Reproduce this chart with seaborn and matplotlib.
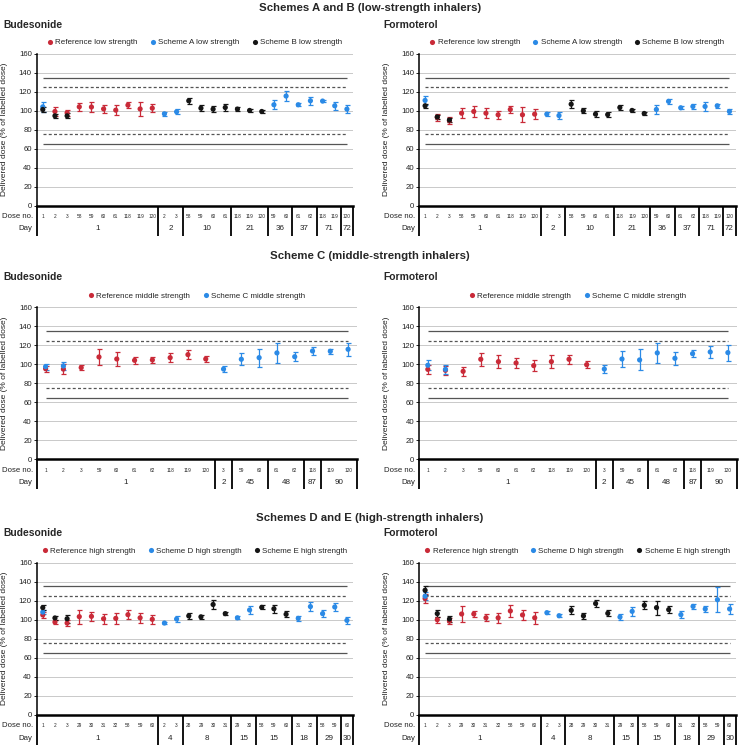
import numpy as np
import pandas as pd
import matplotlib
matplotlib.use("Agg")
import matplotlib.pyplot as plt
import seaborn as sns
from matplotlib.lines import Line2D

N = None

### x-axis categories: dose numbers grouped by day ###
ab_days = ["1", "2", "10", "21", "36", "37", "71", "72"]
ab_doses = [[1, 2, 3, 58, 59, 60, 61, 118, 119, 120], [2, 3], [58, 59, 60, 61],
            [118, 119, 120], [59, 60], [61, 62], [118, 119], [120]]
c_days = ["1", "2", "45", "48", "87", "90"]
c_doses = [[1, 2, 3, 59, 60, 61, 62, 118, 119, 120], [3], [59, 60], [61, 62],
           [118], [119, 120]]
de_days = ["1", "4", "8", "15", "15", "18", "29", "30"]
de_doses = [[1, 2, 3, 29, 30, 31, 32, 58, 59, 60], [2, 3], [28, 29, 30, 31],
            [29, 30], [58, 59, 60], [31, 32], [58, 59], [60]]

### delivered dose (% of labelled dose), one entry per dose slot ###
## Schemes A and B - budesonide
#                 day 1                                                        | d2       | d10                   | d21             | d36        | d37        | d71        | d72
bud_ab_ref   = [N, 99.3, 97.9, 104.2, 104.0, 102.0, 100.7, 106.0, 102.0, 102.8, N, N, N, N, N, N, N, N, N, N, N, N, N, N, N, N]
bud_ab_ref_e = [N, 4.4, 3.0, 4.0, 5.5, 4.0, 5.0, 3.5, 7.0, 4.0, N, N, N, N, N, N, N, N, N, N, N, N, N, N, N, N]
bud_ab_a     = [104.2, N, N, N, N, N, N, N, N, N, 96.8, 99.0, N, N, N, N, N, N, N, 106.4, 115.6, 106.4, 110.6, 110.3, 105.3, 101.8]
bud_ab_a_e   = [5.0, N, N, N, N, N, N, N, N, N, 2.0, 2.5, N, N, N, N, N, N, N, 5.0, 5.0, 1.5, 4.0, 1.5, 4.0, 4.0]
bud_ab_b     = [101.4, 94.7, 94.7, N, N, N, N, N, N, N, N, N, 110.6, 102.8, 101.8, 103.5, 101.8, 100.4, 99.3, N, N, N, N, N, N, N]
bud_ab_b_e   = [3.0, 2.0, 2.5, N, N, N, N, N, N, N, N, N, 3.0, 3.0, 3.5, 3.5, 2.0, 1.5, 1.5, N, N, N, N, N, N, N]
## Schemes A and B - formoterol
form_ab_ref   = [N, 93.0, 89.5, 97.5, 99.3, 97.5, 95.8, 101.4, 95.8, 96.5, N, N, N, N, N, N, N, N, N, N, N, N, N, N, N, N]
form_ab_ref_e = [N, 3.5, 3.5, 5.0, 5.5, 5.5, 4.0, 4.0, 8.0, 5.0, N, N, N, N, N, N, N, N, N, N, N, N, N, N, N, N]
form_ab_a     = [111.0, N, N, N, N, N, N, N, N, N, 96.5, 95.0, N, N, N, N, N, N, N, 101.4, 110.0, 103.2, 104.6, 104.6, 105.3, 99.3]
form_ab_a_e   = [5.0, N, N, N, N, N, N, N, N, N, 2.0, 4.0, N, N, N, N, N, N, N, 5.0, 3.0, 1.5, 3.0, 5.0, 2.0, 2.5]
form_ab_b     = [105.3, 93.5, 90.2, N, N, N, N, N, N, N, N, N, 107.0, 100.0, 96.5, 96.0, 103.5, 100.4, 97.2, N, N, N, N, N, N, N]
form_ab_b_e   = [2.0, 2.0, 2.0, N, N, N, N, N, N, N, N, N, 4.0, 2.5, 3.5, 3.0, 2.5, 2.0, 2.0, N, N, N, N, N, N, N]

## Scheme C - budesonide
#               day 1                                                          | d2  | d45        | d48        | d87  | d90
bud_c_ref   = [95.4, 95.0, 96.5, 107.7, 105.6, 104.2, 104.6, 107.0, 110.2, 105.6, N, N, N, N, N, N, N, N]
bud_c_ref_e = [3.0, 5.0, 3.0, 8.0, 7.0, 4.0, 3.0, 5.0, 4.5, 3.5, N, N, N, N, N, N, N, N]
bud_c_c     = [97.5, 98.2, N, N, N, N, N, N, N, N, 95.0, 105.3, 107.0, 112.0, 108.0, 114.0, 113.7, 115.8]
bud_c_c_e   = [3.0, 4.0, N, N, N, N, N, N, N, N, 3.0, 6.5, 9.5, 10.5, 4.5, 4.0, 2.5, 7.0]
## Scheme C - formoterol
form_c_ref   = [94.7, 93.7, 92.6, 105.3, 102.8, 101.4, 98.6, 102.8, 105.3, 99.6, N, N, N, N, N, N, N, N]
form_c_ref_e = [5.0, 5.0, 5.0, 7.0, 7.0, 5.5, 5.5, 7.0, 4.5, 4.0, N, N, N, N, N, N, N, N]
form_c_c     = [99.0, 94.7, N, N, N, N, N, N, N, N, 95.0, 105.6, 104.6, 112.0, 106.3, 111.2, 113.0, 112.3]
form_c_c_e   = [5.0, 5.0, N, N, N, N, N, N, N, N, 4.0, 8.0, 11.0, 10.5, 7.0, 3.5, 6.5, 8.5]

## Schemes D and E - budesonide
#                 day 1                                                         | d4       | d8                    | d15a       | d15b            | d18        | d29        | d30
bud_de_ref   = [105.0, 97.5, 96.5, 103.2, 103.5, 101.0, 101.4, 105.3, 102.0, 100.4, N, N, N, N, N, N, N, N, N, N, N, N, N, N, N, N]
bud_de_ref_e = [3.0, 2.0, 3.5, 7.5, 5.0, 5.5, 5.5, 4.5, 5.5, 5.0, N, N, N, N, N, N, N, N, N, N, N, N, N, N, N, N]
bud_de_d     = [108.0, N, N, N, N, N, N, N, N, N, 96.5, 100.7, N, N, N, N, 102.0, 110.2, N, N, N, 101.4, 113.8, 106.4, 113.4, 99.3]
bud_de_d_e   = [2.0, N, N, N, N, N, N, N, N, N, 1.5, 3.0, N, N, N, N, 1.5, 4.0, N, N, N, 2.5, 5.0, 4.0, 4.5, 3.5]
bud_de_e     = [112.7, 101.8, 101.0, N, N, N, N, N, N, N, N, N, 104.0, 103.0, 116.0, 106.4, N, N, 113.0, 111.5, 105.7, N, N, N, N, N]
bud_de_e_e   = [2.5, 2.0, 4.0, N, N, N, N, N, N, N, N, N, 3.5, 2.0, 4.5, 1.5, N, N, 2.0, 4.0, 3.0, N, N, N, N, N]
## Schemes D and E - formoterol
form_de_ref   = [122.3, 100.0, 98.6, 106.0, 106.0, 102.0, 102.0, 109.2, 105.0, 102.0, N, N, N, N, N, N, N, N, N, N, N, N, N, N, N, N]
form_de_ref_e = [5.0, 3.0, 3.0, 8.0, 3.0, 3.5, 5.5, 6.5, 5.5, 6.0, N, N, N, N, N, N, N, N, N, N, N, N, N, N, N, N]
form_de_d     = [124.7, N, N, N, N, N, N, N, N, N, 107.4, 104.2, N, N, N, N, 102.8, 108.8, N, N, N, 105.3, 114.0, 111.3, 121.0, 111.3]
form_de_d_e   = [4.0, N, N, N, N, N, N, N, N, N, 1.5, 1.5, N, N, N, N, 3.0, 4.5, N, N, N, 4.0, 2.5, 3.5, 13.0, 5.5]
form_de_e     = [131.0, 106.4, 100.7, N, N, N, N, N, N, N, N, N, 109.9, 104.0, 117.0, 106.7, N, N, 115.2, 112.7, 110.6, N, N, N, N, N]
form_de_e_e   = [5.0, 3.5, 3.0, N, N, N, N, N, N, N, N, N, 4.0, 3.5, 4.0, 3.0, N, N, 4.0, 7.5, 4.0, N, N, N, N, N]

### styling ###
red, blue, black = "#c92a38", "#2b8ae6", "#151515"
W, H = 740, 746

sns.set_style("white")
plt.rcParams['font.family'] = ['Liberation Sans', 'DejaVu Sans']

fig = plt.figure(figsize=(W / 100, H / 100), dpi=100)


def px_axes(x0, x1, top, bottom):
    return fig.add_axes([x0 / W, 1 - bottom / H, (x1 - x0) / W, (bottom - top) / H])


def long_frame(series):
    rows = []
    for name, vals, errs in series:
        for i, (v, e) in enumerate(zip(vals, errs)):
            if v is not None:
                rows.append(dict(slot=i, value=v, err=e, series=name))
    return pd.DataFrame(rows)


def draw_panel(ax, series, colors, doses, days):
    n = sum(len(g) for g in doses)
    h_px = ax.get_position().height * H
    df = long_frame(series)
    palette = dict(zip([s[0] for s in series], colors))

    ## acceptance limits
    ax.hlines([135, 65], 0, n - 1, colors="#555555", lw=0.9, zorder=1)
    ax.hlines([125, 75], 0, n - 1, colors="#555555", lw=0.9,
              linestyles=(0, (2.4, 1.8)), zorder=1)

    ## error bars + means
    for name, _, _ in series:
        sub = df[df['series'] == name]
        ax.errorbar(sub['slot'], sub['value'], yerr=sub['err'], fmt='none',
                    ecolor=palette[name], elinewidth=0.9, capsize=1.8,
                    capthick=0.9, zorder=2)
    sns.scatterplot(data=df, x='slot', y='value', hue='series', palette=palette,
                    s=14, linewidth=0, legend=False, ax=ax, zorder=3)

    ax.set_xlim(-0.5, n - 0.5)
    ax.set_ylim(0, 160)
    ax.set_yticks(np.arange(0, 161, 20))
    ax.set_xticks([])
    ax.set_xlabel("")
    ax.yaxis.grid(True, color="#c9c9c9", lw=0.7)
    ax.set_axisbelow(True)
    ax.tick_params(axis='y', direction='out', length=2.5, width=0.7, pad=1,
                   labelsize=5.6, left=True, colors="#222222")
    for side in ['top', 'right']:
        ax.spines[side].set_visible(False)
    ax.spines['left'].set_linewidth(1.1)
    ax.spines['left'].set_color('black')
    ax.spines['bottom'].set_linewidth(1.8)
    ax.spines['bottom'].set_color('black')
    ax.set_ylabel("Delivered dose (% of labelled dose)", fontsize=6, color="#222222")
    ax.yaxis.set_label_coords(-29 / (ax.get_position().width * W), 0.5)

    ## two-row category axis (dose no. / day)
    trans = ax.get_xaxis_transform()
    y_dose, y_day, y_sep = -11 / h_px, -23.5 / h_px, -30 / h_px
    start = 0
    edges = [-0.5]
    for grp, day in zip(doses, days):
        for k, d in enumerate(grp):
            ax.text(start + k, y_dose, str(d), transform=trans, ha='center',
                    va='center', fontsize=3.4, color="#222222")
        ax.text(start + (len(grp) - 1) / 2, y_day, day, transform=trans,
                ha='center', va='center', fontsize=5.8, color="#222222")
        start += len(grp)
        edges.append(start - 0.5)
    for e in edges:
        ax.plot([e, e], [0, y_sep], transform=trans, color='black', lw=1.3,
                clip_on=False, solid_capstyle='butt')
    x_lab = -4 / (ax.get_position().width * W)
    ax.text(x_lab, y_dose, "Dose no.", transform=ax.transAxes, ha='right',
            va='center', fontsize=5.6, color="#222222")
    ax.text(x_lab, y_day, "Day", transform=ax.transAxes, ha='right',
            va='center', fontsize=5.6, color="#222222")

    ## legend row above the panel
    handles = [Line2D([], [], marker='o', linestyle='', markersize=3.7,
                      markerfacecolor=c, markeredgewidth=0, label=s[0])
               for s, c in zip(series, colors)]
    ax.legend(handles=handles, ncol=len(handles), loc='center',
              bbox_to_anchor=(0.5, 1 + 11.5 / h_px), frameon=False,
              fontsize=5.8, handlelength=0.6, handletextpad=0.35,
              columnspacing=1.6, borderaxespad=0, borderpad=0)


### section layout (pixel boxes) ###
sections = [
    dict(title="Schemes A and B (low-strength inhalers)", title_y=8, panel_y=25,
         top=54, bottom=205.5, right=(353, 735.5), doses=ab_doses, days=ab_days,
         colors=[red, blue, black],
         bud=[("Reference low strength", bud_ab_ref, bud_ab_ref_e),
              ("Scheme A low strength", bud_ab_a, bud_ab_a_e),
              ("Scheme B low strength", bud_ab_b, bud_ab_b_e)],
         form=[("Reference low strength", form_ab_ref, form_ab_ref_e),
               ("Scheme A low strength", form_ab_a, form_ab_a_e),
               ("Scheme B low strength", form_ab_b, form_ab_b_e)]),
    dict(title="Scheme C (middle-strength inhalers)", title_y=256, panel_y=277.5,
         top=307.3, bottom=459.3, right=(357, 736.7), doses=c_doses, days=c_days,
         colors=[red, blue],
         bud=[("Reference middle strength", bud_c_ref, bud_c_ref_e),
              ("Scheme C middle strength", bud_c_c, bud_c_c_e)],
         form=[("Reference middle strength", form_c_ref, form_c_ref_e),
               ("Scheme C middle strength", form_c_c, form_c_c_e)]),
    dict(title="Schemes D and E (high-strength inhalers)", title_y=518, panel_y=533,
         top=562.7, bottom=714.7, right=(353, 735.7), doses=de_doses, days=de_days,
         colors=[red, blue, black],
         bud=[("Reference high strength", bud_de_ref, bud_de_ref_e),
              ("Scheme D high strength", bud_de_d, bud_de_d_e),
              ("Scheme E high strength", bud_de_e, bud_de_e_e)],
         form=[("Reference high strength", form_de_ref, form_de_ref_e),
               ("Scheme D high strength", form_de_d, form_de_d_e),
               ("Scheme E high strength", form_de_e, form_de_e_e)]),
]

for sec in sections:
    fig.text(0.5, 1 - sec['title_y'] / H, sec['title'], ha='center', va='center',
             fontsize=8.2, fontweight='bold')
    for x0, x1, key, name, tx in [(36.7, sec['right'][0], 'bud', "Budesonide", 3),
                                  (419, sec['right'][1], 'form', "Formoterol", 383)]:
        ax = px_axes(x0, x1, sec['top'], sec['bottom'])
        draw_panel(ax, sec[key], sec['colors'], sec['doses'], sec['days'])
        fig.text(tx / W, 1 - sec['panel_y'] / H, name, ha='left', va='center',
                 fontsize=7.4, fontweight='bold')

plt.savefig("out.png", dpi=100)
